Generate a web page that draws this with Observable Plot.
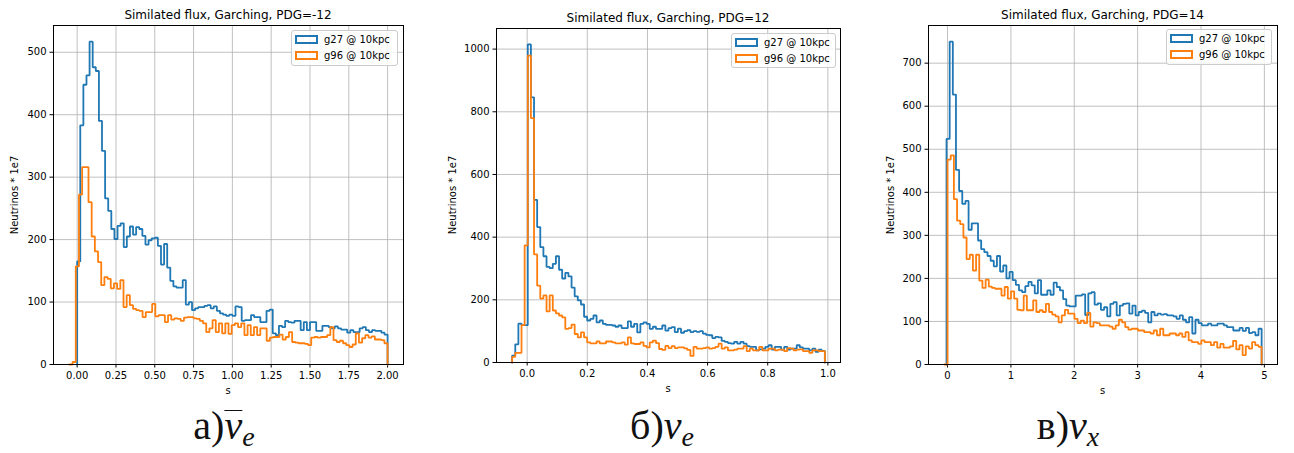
<!DOCTYPE html>
<html>
<head>
<meta charset="utf-8">
<script src="https://cdn.jsdelivr.net/npm/d3@7"></script>
<script src="https://cdn.jsdelivr.net/npm/@observablehq/plot@0.6"></script>
<style>
  html, body { margin: 0; padding: 0; background: #fff; }
  #wrap { position: relative; width: 1294px; height: 453px; overflow: hidden;
          font-family: "DejaVu Sans", sans-serif; color: #000; background: #fff; }
  .abs { position: absolute; white-space: nowrap; }
  .title { font-size: 12px; line-height: 14px; transform: translate(-50%, -50%); }
  .xl { font-size: 10px; line-height: 12px; transform: translate(-50%, -50%); }
  .yl { font-size: 10px; line-height: 12px; transform: translate(-50%, -50%) rotate(-90deg); }
  .legend { position: absolute; box-sizing: border-box; border: 1px solid #cccccc; border-radius: 3px;
            background: rgba(255,255,255,0.8); }
  .entry { position: absolute; font-size: 10px; line-height: 12px; white-space: nowrap; transform: translateY(-50%); }
  .patch { position: absolute; box-sizing: border-box; border: 2px solid; width: 23px; height: 9px; }
  .cap { font-family: "Liberation Serif", "DejaVu Serif", serif; font-size: 40px; line-height: 40px;
         transform: translateX(-50%); color: #111; }
  .cap .nu { font-style: italic; }
  .cap .bar { display: inline-block; line-height: 30px; border-top: 1.6px solid #111; }
  .cap .sub { font-style: italic; font-size: 28px; position: relative; top: 7px; }
</style>
</head>
<body>
<div id="wrap"></div>
<script>
// ---------- data ----------
const seriesNames = ["g27 @ 10kpc", "g96 @ 10kpc"];
const titles = [
  "Similated flux, Garching, PDG=-12",
  "Similated flux, Garching, PDG=12",
  "Similated flux, Garching, PDG=14"
];
const xLabel = "s";
const yLabel = "Neutrinos * 1e7";

// Panel 1 (PDG=-12): histogram ranges [start, end], 100 bins each
const blueRange1 = [0.0, 2.0];
const orangeRange1 = [-0.05, 2.0];
const blue1 = [
  165, 383, 448, 463, 517, 476, 470, 390, 342, 266,
  246, 217, 201, 222, 226, 188, 205, 221, 208, 220,
  217, 206, 192, 199, 202, 203, 190, 160, 193, 155,
  134, 125, 123, 123, 135, 96, 100, 87, 90, 92,
  92, 94, 95, 90, 93, 86, 82, 80, 78, 80,
  78, 93, 92, 70, 71, 71, 79, 76, 76, 68,
  68, 86, 88, 50, 47, 62, 60, 70, 68, 67,
  70, 70, 55, 68, 55, 68, 68, 54, 54, 62,
  62, 60, 58, 61, 58, 56, 56, 51, 55, 52,
  52, 58, 60, 55, 52, 55, 54, 54, 51, 48
];
const orange1 = [
  0, 4, 157, 272, 316, 316, 260, 205, 181, 164,
  127, 140, 137, 122, 130, 121, 135, 92, 111, 95,
  89, 87, 86, 76, 84, 84, 97, 77, 79, 79,
  68, 79, 72, 74, 73, 70, 75, 76, 76, 74,
  73, 70, 66, 52, 58, 71, 52, 66, 50, 66,
  49, 63, 66, 60, 66, 47, 63, 47, 60, 47,
  58, 58, 38, 43, 44, 44, 48, 40, 44, 52,
  36, 35, 34, 34, 33, 31, 43, 44, 43, 44,
  44, 47, 60, 39, 36, 38, 34, 31, 28, 32,
  50, 35, 42, 47, 43, 45, 40, 40, 39, 34
];
const xTicks1 = [0, 0.25, 0.5, 0.75, 1, 1.25, 1.5, 1.75, 2];
const yTicks1 = [0, 100, 200, 300, 400, 500];

// Panel 2 (PDG=12)
const blueRange2 = [-0.05, 0.99];
const orangeRange2 = [-0.05, 0.99];
const blue2 = [
  22, 58, 124, 119, 119, 1015, 846, 519, 432, 368,
  339, 305, 301, 315, 339, 296, 268, 286, 275, 239,
  211, 198, 185, 146, 134, 139, 150, 128, 134, 123,
  120, 120, 118, 114, 118, 110, 110, 131, 114, 123,
  96, 123, 128, 123, 107, 114, 107, 107, 118, 102,
  110, 113, 97, 108, 95, 100, 103, 97, 100, 98,
  100, 92, 88, 87, 78, 82, 80, 69, 66, 62,
  60, 66, 60, 66, 60, 52, 50, 50, 39, 42,
  44, 50, 55, 41, 50, 50, 41, 50, 41, 44,
  44, 55, 48, 44, 44, 39, 44, 34, 41, 37
];
const orange2 = [
  18, 31, 31, 119, 374, 979, 780, 345, 245, 204,
  214, 163, 214, 166, 157, 150, 144, 107, 110, 121,
  91, 80, 96, 80, 64, 61, 61, 67, 61, 61,
  67, 67, 64, 61, 61, 64, 57, 80, 61, 59,
  59, 64, 53, 48, 64, 70, 62, 43, 40, 53,
  46, 52, 46, 48, 48, 45, 40, 21, 50, 44,
  44, 46, 48, 44, 46, 50, 60, 44, 48, 39,
  39, 41, 44, 44, 52, 36, 44, 39, 39, 50,
  39, 39, 44, 44, 39, 41, 41, 36, 46, 44,
  39, 41, 42, 36, 36, 31, 39, 39, 36, 36
];
const xTicks2 = [0, 0.2, 0.4, 0.6, 0.8, 1.0];
const yTicks2 = [0, 200, 400, 600, 800, 1000];

// Panel 3 (PDG=14)
const blueRange3 = [-0.016, 4.957];
const orangeRange3 = [-0.05, 4.957];
const blue3 = [
  524, 750, 627, 452, 403, 373, 380, 313, 328, 328,
  288, 268, 261, 252, 241, 228, 252, 216, 230, 200,
  215, 196, 185, 172, 168, 182, 192, 184, 165, 196,
  162, 162, 172, 162, 190, 180, 172, 152, 137, 135,
  135, 160, 160, 163, 115, 165, 168, 139, 142, 127,
  133, 112, 141, 145, 114, 137, 141, 142, 118, 137,
  114, 122, 125, 120, 98, 122, 114, 118, 116, 117,
  114, 114, 112, 106, 114, 104, 98, 110, 72, 104,
  96, 91, 91, 95, 91, 91, 95, 95, 91, 87,
  87, 79, 79, 85, 78, 85, 73, 75, 68, 83
];
const orange3 = [
  0, 476, 486, 384, 334, 326, 295, 245, 255, 218,
  255, 195, 178, 197, 181, 178, 176, 176, 160, 180,
  153, 170, 153, 127, 126, 160, 126, 126, 149, 122,
  126, 122, 141, 122, 116, 112, 98, 114, 127, 118,
  118, 106, 96, 102, 96, 120, 88, 98, 96, 91,
  91, 91, 88, 83, 91, 104, 98, 87, 81, 83,
  83, 79, 79, 75, 75, 72, 79, 68, 83, 68,
  68, 72, 72, 68, 72, 64, 75, 56, 52, 52,
  48, 56, 52, 52, 45, 52, 39, 48, 39, 39,
  42, 55, 35, 45, 22, 42, 37, 52, 45, 41
];
const xTicks3 = [0, 1, 2, 3, 4, 5];
const yTicks3 = [0, 100, 200, 300, 400, 500, 600, 700];

const captions = [
  {letter: "а)", nu: "ν", bar: true, sub: "e"},
  {letter: "б)", nu: "ν", bar: false, sub: "e"},
  {letter: "в)", nu: "ν", bar: false, sub: "x"}
];

// ---------- styles ----------
const BLUE = "#1f77b4", ORANGE = "#ff7f0e";

// step outline like matplotlib histtype="step"
function stepPoints(range, counts) {
  const [lo, hi] = range, n = counts.length, w = (hi - lo) / n;
  const pts = [{x: lo, y: 0}];
  counts.forEach((c, i) => {
    pts.push({x: lo + i * w, y: c});
    pts.push({x: lo + (i + 1) * w, y: c});
  });
  pts.push({x: hi, y: 0});
  return pts;
}

const panels = [
  {left: 0, width: 420, height: 400, mL: 53, mR: 17, mT: 25, mB: 36,
   blue: blue1, orange: orange1, blueRange: blueRange1, orangeRange: orangeRange1,
   xTicks: xTicks1, xFmt: d3.format(".2f"), yTicks: yTicks1, title: titles[0],
   ylabX: 15, legend: {left: 291, top: 30, width: 107, height: 36}, capX: 224},
  {left: 440, width: 420, height: 400, mL: 56, mR: 20, mT: 28, mB: 38,
   blue: blue2, orange: orange2, blueRange: blueRange2, orangeRange: orangeRange2,
   xTicks: xTicks2, xFmt: d3.format(".1f"), yTicks: yTicks2, title: titles[1],
   ylabX: 452.5, legend: {left: 731, top: 33, width: 105, height: 35}, capX: 662},
  {left: 870, width: 424, height: 400, mL: 58, mR: 17, mT: 25, mB: 36,
   blue: blue3, orange: orange3, blueRange: blueRange3, orangeRange: orangeRange3,
   xTicks: xTicks3, xFmt: d3.format("d"), yTicks: yTicks3, title: titles[2],
   ylabX: 890.5, legend: {left: 1166, top: 29, width: 106, height: 36}, capX: 1068}
];

const wrap = document.getElementById("wrap");
function addDiv(cls, x, y, text) {
  const d = document.createElement("div");
  d.className = "abs " + cls;
  d.style.left = x + "px";
  d.style.top = y + "px";
  if (text != null) d.textContent = text;
  wrap.appendChild(d);
  return d;
}

panels.forEach((p, k) => {
  const lo = Math.min(p.blueRange[0], p.orangeRange[0]);
  const hi = Math.max(p.blueRange[1], p.orangeRange[1]);
  const pad = 0.05 * (hi - lo);
  const ymax = 1.05 * Math.max(d3.max(p.blue), d3.max(p.orange));

  const chart = Plot.plot({
    width: p.width,
    height: p.height,
    marginLeft: p.mL, marginRight: p.mR, marginTop: p.mT, marginBottom: p.mB,
    style: {fontFamily: "DejaVu Sans, sans-serif", fontSize: "10px", color: "#000", background: "#fff", overflow: "visible"},
    x: {domain: [lo - pad, hi + pad], ticks: p.xTicks, tickFormat: p.xFmt, tickSize: 3.5, tickPadding: 3.5, label: null},
    y: {domain: [0, ymax], ticks: p.yTicks, tickFormat: d3.format("d"), tickSize: 3.5, tickPadding: 3.5, label: null},
    marks: [
      Plot.ruleX(p.xTicks, {stroke: "#b0b0b0", strokeWidth: 0.8}),
      Plot.ruleY(p.yTicks, {stroke: "#b0b0b0", strokeWidth: 0.8}),
      Plot.line(stepPoints(p.blueRange, p.blue), {x: "x", y: "y", stroke: BLUE, strokeWidth: 1.8, strokeLinejoin: "miter"}),
      Plot.line(stepPoints(p.orangeRange, p.orange), {x: "x", y: "y", stroke: ORANGE, strokeWidth: 1.8, strokeLinejoin: "miter"}),
      Plot.frame({stroke: "#000", strokeWidth: 1})
    ]
  });
  const holder = document.createElement("div");
  holder.className = "abs";
  holder.style.left = p.left + "px";
  holder.style.top = "0px";
  holder.appendChild(chart);
  wrap.appendChild(holder);

  const fx0 = p.left + p.mL, fx1 = p.left + p.width - p.mR;
  const fy0 = p.mT, fy1 = p.height - p.mB;
  const cx = (fx0 + fx1) / 2;

  addDiv("title", cx, fy0 - 10.5, p.title);
  addDiv("xl", cx, fy1 + 27, xLabel);
  addDiv("yl", p.ylabX, (fy0 + fy1) / 2, yLabel);

  // legend
  const lg = document.createElement("div");
  lg.className = "legend";
  Object.assign(lg.style, {left: p.legend.left + "px", top: p.legend.top + "px",
    width: p.legend.width + "px", height: p.legend.height + "px"});
  [BLUE, ORANGE].forEach((c, j) => {
    const pt = document.createElement("div");
    pt.className = "patch";
    pt.style.borderColor = c;
    pt.style.left = "3px";
    pt.style.top = (4 + j * 16) + "px";
    lg.appendChild(pt);
    const tx = document.createElement("div");
    tx.className = "entry";
    tx.style.left = "32px";
    tx.style.top = (8.5 + j * 16) + "px";
    tx.textContent = seriesNames[j];
    lg.appendChild(tx);
  });
  wrap.appendChild(lg);

  // caption
  const c = captions[k];
  const cap = addDiv("cap", p.capX, 406, null);
  const a = document.createElement("span"); a.textContent = c.letter; cap.appendChild(a);
  const nu = document.createElement("span"); nu.className = "nu" + (c.bar ? " bar" : ""); nu.textContent = c.nu; cap.appendChild(nu);
  const sb = document.createElement("span"); sb.className = "sub"; sb.textContent = c.sub; cap.appendChild(sb);
});
</script>
</body>
</html>
